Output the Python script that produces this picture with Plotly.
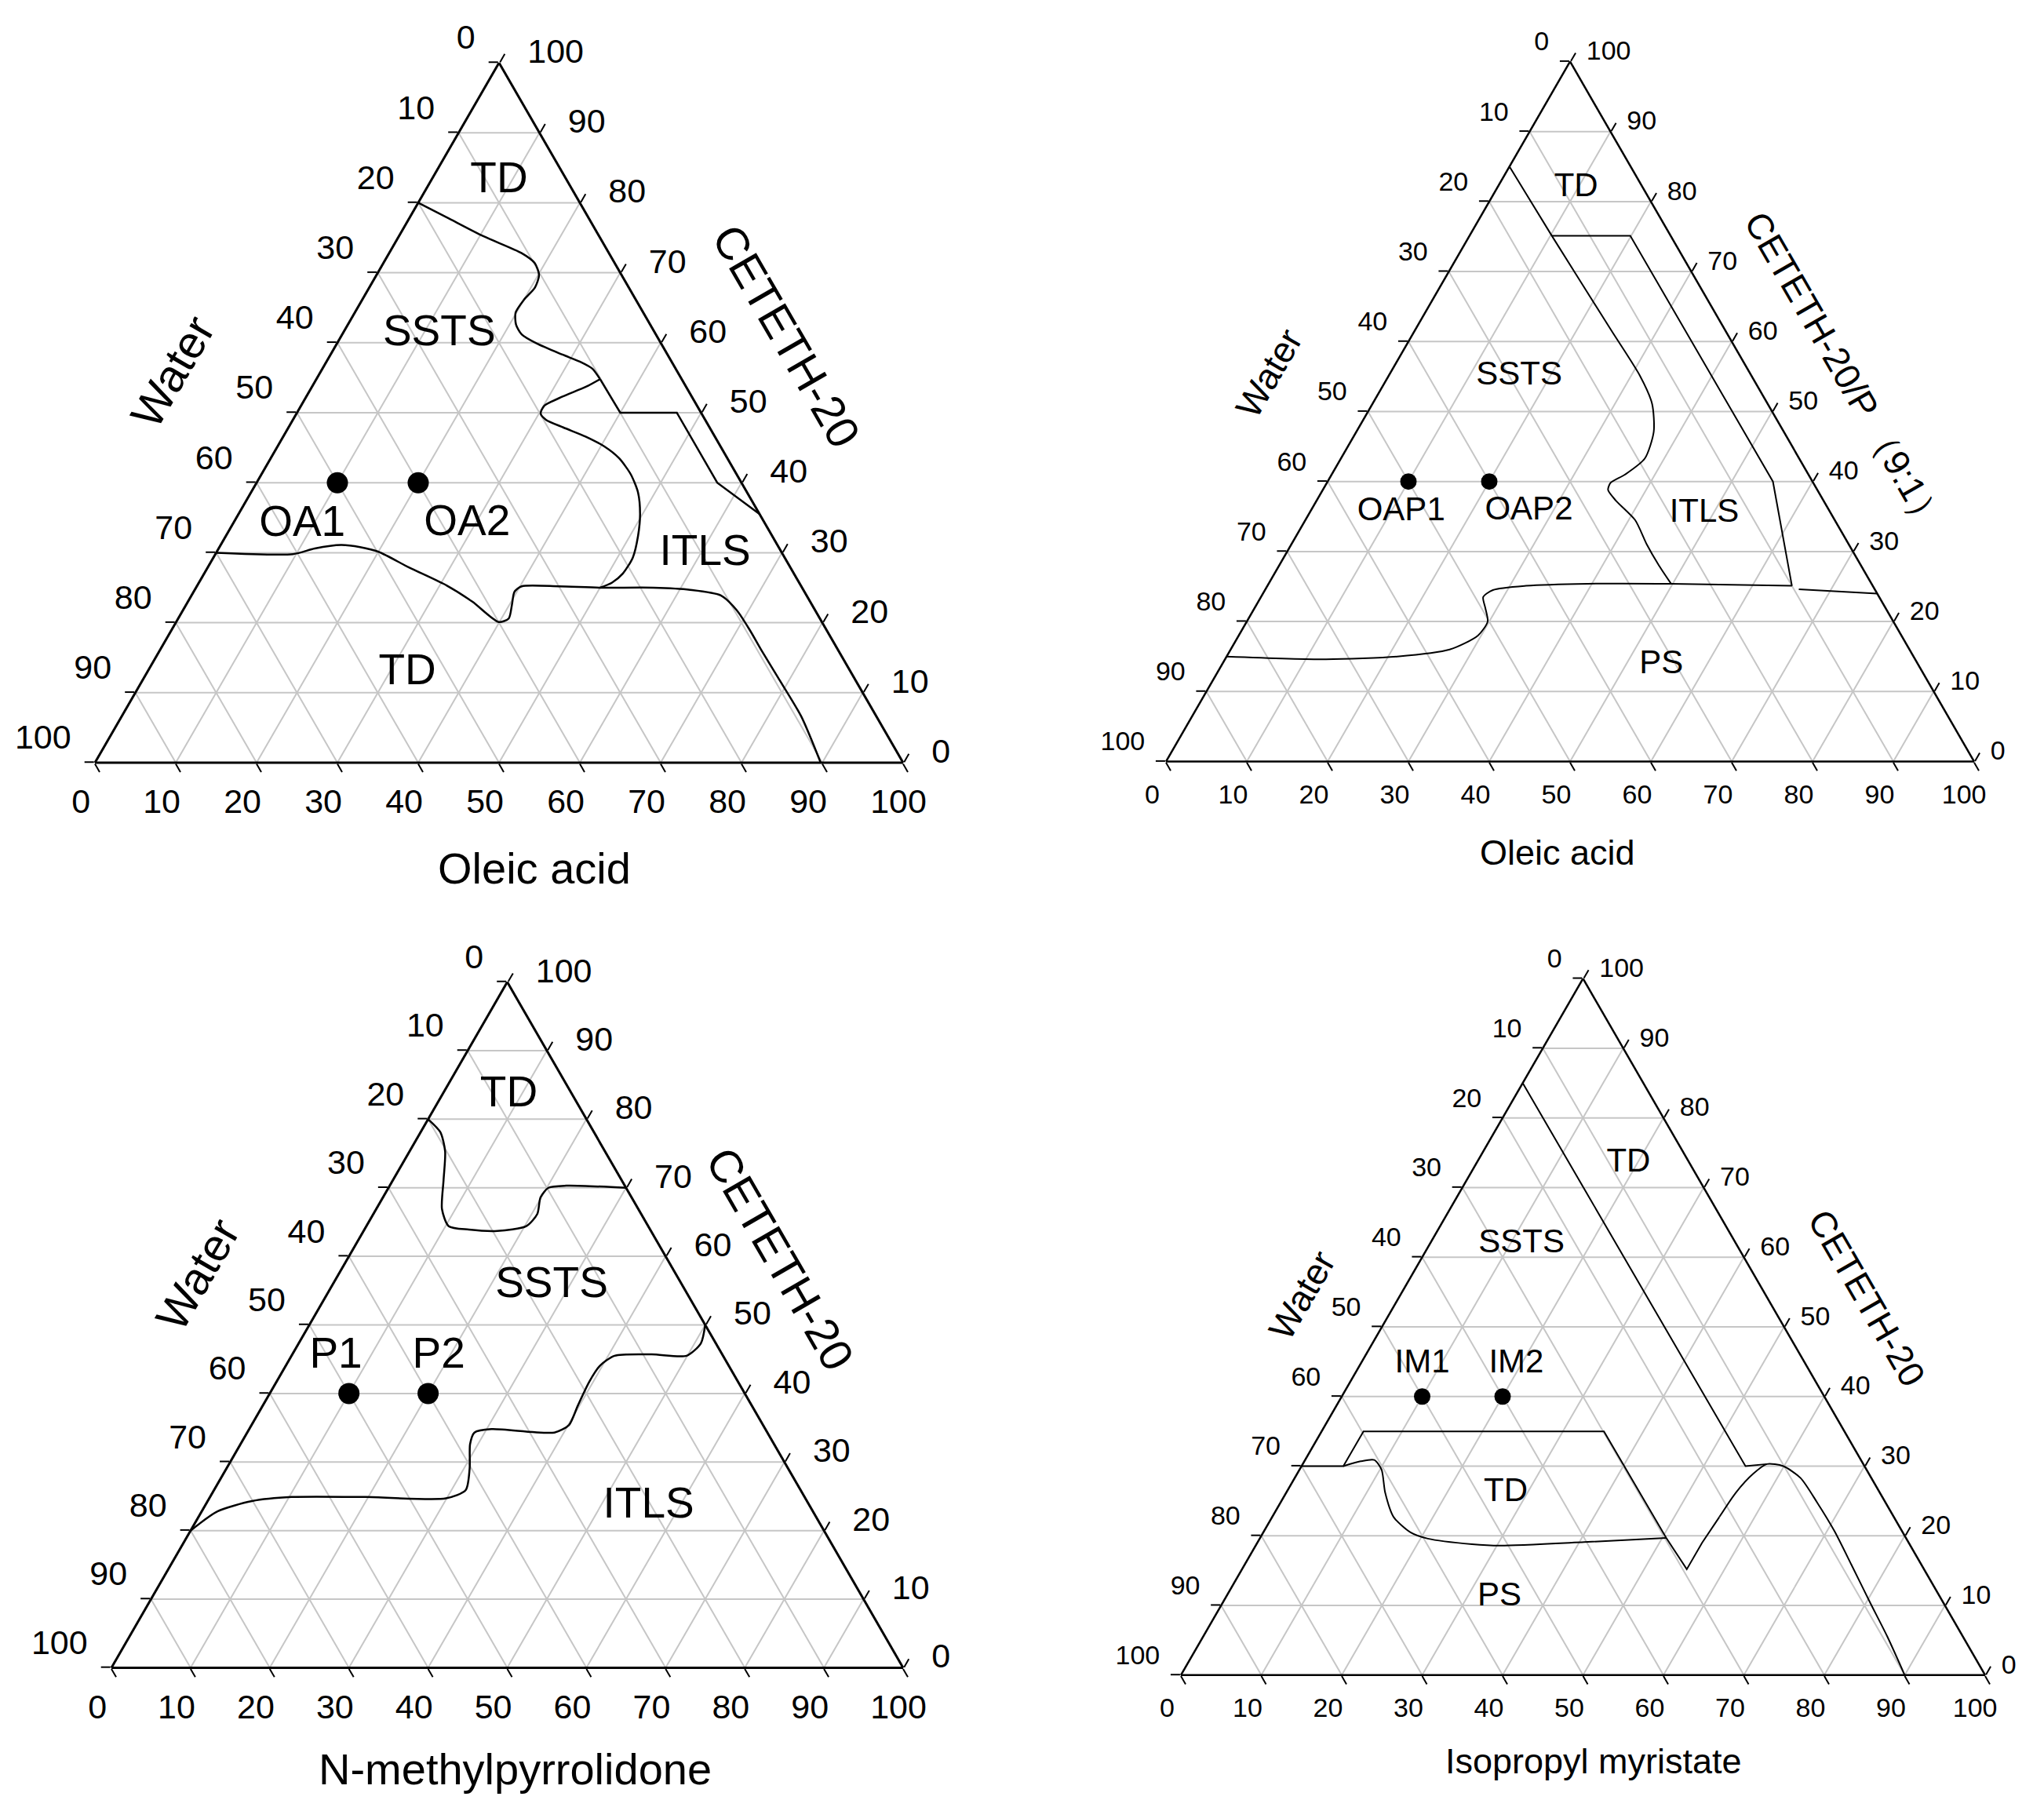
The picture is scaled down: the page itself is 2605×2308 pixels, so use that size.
import plotly.graph_objects as go

W, H = 2605, 2308
FONT = "Liberation Sans, Arial, sans-serif"
NB = "\u00a0"

# a = surfactant (apex), c = oil component (right corner); water = 100 - a - c

# panel 1: oleic acid
oa_top_a = [80, 77.9, 75.2, 72.8, 71.4, 69.7, 67.9, 66.1, 64.3, 62.6, 61.2, 59.9, 58.3, 57.2, 56.3, 54.8]
oa_top_c = [0, 4.6, 10.5, 16.4, 18.7, 20.1, 20.5, 20.0, 19.9, 20.8, 22.2, 24.7, 28.7, 31.6, 33.4, 35.1]
oa_step_a = [54.8, 50, 50, 40, 35.5]
oa_step_c = [35.1, 40, 47, 57, 64.5]
oa_itls_a = [54.8, 53.7, 52.3, 51.0, 49.9, 49.0, 47.9, 46.6, 45.2, 43.5, 41.2, 38.6, 35.5, 32.4, 29.3, 27.0, 25.7, 25.0]
oa_itls_c = [35.1, 33.9, 31.7, 30.1, 30.2, 31.3, 34.0, 37.4, 40.4, 43.1, 45.7, 47.9, 49.7, 51.0, 51.9, 51.8, 51.1, 50.0]
oa_low_a = [30, 29.8, 30.6, 31.1, 30.8, 30.1, 27.9, 25.3, 23.0, 20.1, 20.6, 22.6, 24.4, 25.2, 25.2, 25.0, 25.0, 24.7, 23.9, 21.8, 19.0, 15.9, 12.2, 6.6, 0]
oa_low_c = [0, 9.6, 11.9, 14.9, 17.4, 20.1, 24.9, 30.9, 35.2, 39.9, 40.9, 40.3, 39.7, 40.2, 44.8, 50.0, 56.6, 61.3, 65.5, 68.5, 71.5, 74.6, 78.4, 84.1, 89.8]
oa_dot_a = [40, 40]
oa_dot_c = [10, 20]
oa_lab = ["TD", "SSTS", "OA1", "OA2", "ITLS", "TD"]
oa_lab_a = [83, 61.2, 33.9, 34.1, 29.8, 12.7]
oa_lab_c = [8.5, 12, 8.7, 29, 60.6, 32.3]

# panel 2: oleic acid with CETETH-20/P (9:1)
oap_td_a = [85, 75.1, 61.6, 55.1, 51.1, 47.1, 43.3, 41.0, 39.8, 38.8, 37.3, 34.5, 31.0, 28.0, 25.4]
oap_td_c = [0, 10.2, 24.3, 31.1, 34.6, 36.8, 37.6, 36.3, 35.1, 35.3, 37.0, 40.8, 44.0, 47.0, 49.8]
oap_box_a = [75.1, 75.1, 40.0, 25.1]
oap_box_c = [10.2, 19.9, 55.1, 64.9]
oap_ps_a = [15.0, 14.6, 15.0, 16.0, 18.0, 20.0, 22.0, 23.5, 24.5, 25.1, 25.4, 25.4, 25.1]
oap_ps_c = [0, 12.5, 21.1, 27.1, 29.6, 29.8, 28.5, 27.5, 28.2, 32.0, 39.5, 49.8, 64.9]
oap_edge_a = [24.6, 24.0]
oap_edge_c = [66.0, 76.0]
oap_dot_a = [40, 40]
oap_dot_c = [10, 20]
oap_lab = ["TD", "SSTS", "OAP1", "OAP2", "ITLS", "PS"]
oap_lab_a = [81.9, 55, 35.6, 35.8, 35.4, 13.8]
oap_lab_c = [9.8, 16.2, 11.3, 27.0, 48.9, 54.4]

# panel 3: N-methylpyrrolidone
nmp_td_a = [80, 78.1, 75.3, 71.1, 66.9, 64.4, 63.9, 63.7, 64.4, 66.2, 68.6, 70.0, 70.3, 70.0]
nmp_td_c = [0, 2.5, 4.5, 6.4, 8.3, 10.4, 13.2, 16.9, 20.2, 20.7, 19.9, 20.2, 22.3, 30.0]
nmp_itls_a = [20, 22.8, 24.3, 24.9, 24.9, 24.7, 25.9, 29.1, 32.6, 34.3, 34.8, 34.3, 35.4, 38.2, 41.7, 44.1, 45.5, 45.7, 45.5, 47.3, 50]
nmp_itls_c = [0, 2.0, 5.6, 10.3, 19.7, 29.9, 31.8, 30.7, 29.0, 28.7, 30.6, 38.8, 40.1, 39.8, 39.5, 39.7, 40.8, 45.4, 49.9, 50.8, 50]
nmp_dot_a = [40, 40]
nmp_dot_c = [10, 20]
nmp_lab = ["TD", "SSTS", "P1", "P2", "ITLS"]
nmp_lab_a = [83.4, 55.6, 45.3, 45.3, 23.5]
nmp_lab_c = [8.5, 27.8, 5.7, 18.7, 56.1]

# panel 4: isopropyl myristate
ipm_diag_a = [85, 30.0, 30.3]
ipm_diag_c = [0, 55.2, 57.7]
ipm_box_a = [30, 30, 35, 35, 19.7, 15.2, 19.0, 22.7]
ipm_box_c = [0, 5.2, 5.2, 35.1, 50.5, 55.3, 55.3, 55.6]
ipm_hump_a = [22.7, 26.2, 28.9, 30.3, 30.0, 28.3, 24.8, 20.7, 15.9, 10.4, 5.5, 0]
ipm_hump_c = [55.6, 55.9, 56.7, 57.7, 59.9, 62.9, 66.7, 70.9, 75.4, 80.5, 85.1, 90]
ipm_low_a = [30.0, 30.7, 30.9, 29.5, 26.2, 22.7, 20.5, 19.6, 18.8, 18.6, 19.1, 19.7]
ipm_low_c = [5.2, 7.0, 8.6, 10.2, 12.3, 15.1, 18.3, 20.9, 26.8, 30.4, 40.6, 50.5]
ipm_dot_a = [40, 40]
ipm_dot_c = [10, 20]
ipm_lab = ["TD", "SSTS", "IM1", "IM2", "TD", "PS"]
ipm_lab_a = [73.5, 61.9, 44.6, 44.6, 26.2, 11.2]
ipm_lab_c = [18.9, 11.4, 7.7, 19.4, 27.3, 34.0]

ticks = list(range(0, 101, 10))


def water(a, c):
    return [round(100 - x - y, 2) for x, y in zip(a, c)]


def curve(sub, a, c, width, shape="linear"):
    return go.Scatterternary(subplot=sub, mode="lines", a=a, b=water(a, c), c=c,
                             line=dict(color="black", width=width, shape=shape, smoothing=0.7),
                             hoverinfo="skip", showlegend=False)


def dots(sub, a, c, size):
    return go.Scatterternary(subplot=sub, mode="markers", a=a, b=water(a, c), c=c,
                             marker=dict(color="black", size=size),
                             hoverinfo="skip", showlegend=False)


def labels(sub, names, a, c, size):
    return go.Scatterternary(subplot=sub, mode="text", a=a, b=water(a, c), c=c, text=names,
                             textposition="middle center",
                             textfont=dict(family=FONT, size=size, color="black"),
                             hoverinfo="skip", showlegend=False)


def domain(xl, xr, yt, yb):
    yc = 1 - (yt + yb) / 2 / H
    half = ((yb - yt) / 2 + 15) / H
    return dict(x=[xl / W, xr / W], y=[yc - half, yc + half])


def tern(dom, tick_size, lw, pad_b, pad_end, pad_c):
    # labels read the other way round (0 at the start of each edge, going anticlockwise)
    texts = {
        "aaxis": [f"{100 - v}{NB}<br>{NB}" for v in ticks],
        "baxis": [f"{100 - v}" + NB * (pad_end if v == 0 else pad_b) for v in ticks],
        "caxis": [NB * pad_c + f"{100 - v}" for v in ticks],
    }
    axes = {}
    for k, tt in texts.items():
        axes[k] = dict(min=0, tickmode="array", tickvals=ticks, ticktext=tt,
                       showline=True, linecolor="black", linewidth=lw,
                       showgrid=True, gridcolor="#c6c6c6", gridwidth=2,
                       ticks="outside", ticklen=12, tickwidth=2, tickcolor="black",
                       tickfont=dict(family=FONT, size=tick_size, color="black"),
                       title=dict(text=""), layer="below traces")
    return dict(domain=dom, sum=100, bgcolor="white", **axes)


fig = go.Figure()

fig.add_trace(curve("ternary", oa_top_a, oa_top_c, 2.5, "spline"))
fig.add_trace(curve("ternary", oa_step_a, oa_step_c, 2.5))
fig.add_trace(curve("ternary", oa_itls_a, oa_itls_c, 2.5, "spline"))
fig.add_trace(curve("ternary", oa_low_a, oa_low_c, 2.5, "spline"))
fig.add_trace(dots("ternary", oa_dot_a, oa_dot_c, 27))
fig.add_trace(labels("ternary", oa_lab, oa_lab_a, oa_lab_c, 55))

fig.add_trace(curve("ternary2", oap_td_a, oap_td_c, 2, "spline"))
fig.add_trace(curve("ternary2", oap_box_a, oap_box_c, 2))
fig.add_trace(curve("ternary2", oap_ps_a, oap_ps_c, 2, "spline"))
fig.add_trace(curve("ternary2", oap_edge_a, oap_edge_c, 2))
fig.add_trace(dots("ternary2", oap_dot_a, oap_dot_c, 21))
fig.add_trace(labels("ternary2", oap_lab, oap_lab_a, oap_lab_c, 42))

fig.add_trace(curve("ternary3", nmp_td_a, nmp_td_c, 2.5, "spline"))
fig.add_trace(curve("ternary3", nmp_itls_a, nmp_itls_c, 2.5, "spline"))
fig.add_trace(dots("ternary3", nmp_dot_a, nmp_dot_c, 27))
fig.add_trace(labels("ternary3", nmp_lab, nmp_lab_a, nmp_lab_c, 55))

fig.add_trace(curve("ternary4", ipm_diag_a, ipm_diag_c, 2))
fig.add_trace(curve("ternary4", ipm_box_a, ipm_box_c, 2))
fig.add_trace(curve("ternary4", ipm_hump_a, ipm_hump_c, 2, "spline"))
fig.add_trace(curve("ternary4", ipm_low_a, ipm_low_c, 2, "spline"))
fig.add_trace(dots("ternary4", ipm_dot_a, ipm_dot_c, 21))
fig.add_trace(labels("ternary4", ipm_lab, ipm_lab_a, ipm_lab_c, 42))


def title(text, x, y, size, angle=0):
    return dict(text=text, x=x / W, y=1 - y / H, xref="paper", yref="paper",
                xanchor="center", yanchor="middle", showarrow=False, textangle=angle,
                font=dict(family=FONT, size=size, color="black"))


fig.update_layout(
    width=W, height=H,
    margin=dict(l=0, r=0, t=0, b=0, pad=0),
    paper_bgcolor="white",
    ternary=tern(domain(113, 1143, 72, 964), 43, 3, 4, 2, 2),
    ternary2=tern(domain(1478, 2508, 71, 962), 34, 2.5, 5, 4, 1),
    ternary3=tern(domain(134, 1143, 1244, 2117), 43, 3, 4, 2, 2),
    ternary4=tern(domain(1497, 2522, 1239, 2127), 34, 2.5, 5, 4, 1),
    annotations=[
        title("Oleic acid", 673, 1098, 56),
        title("Water", 212, 466, 58, -60),
        title("CETETH-20", 995, 420, 58, 60),
        title("Oleic acid", 1977, 1079, 45),
        title("Water", 1609, 468, 46, -60),
        title("CETETH-20/P （9:1）", 2343, 466, 46, 60),
        title("N-methylpyrrolidone", 648, 2246, 56),
        title("Water", 243, 1616, 58, -60),
        title("CETETH-20", 987, 1596, 58, 60),
        title("Isopropyl myristate", 2023, 2236, 45),
        title("Water", 1651, 1643, 46, -60),
        title("CETETH-20", 2371, 1646, 46, 60),
    ],
)

fig.write_html("out.html")
